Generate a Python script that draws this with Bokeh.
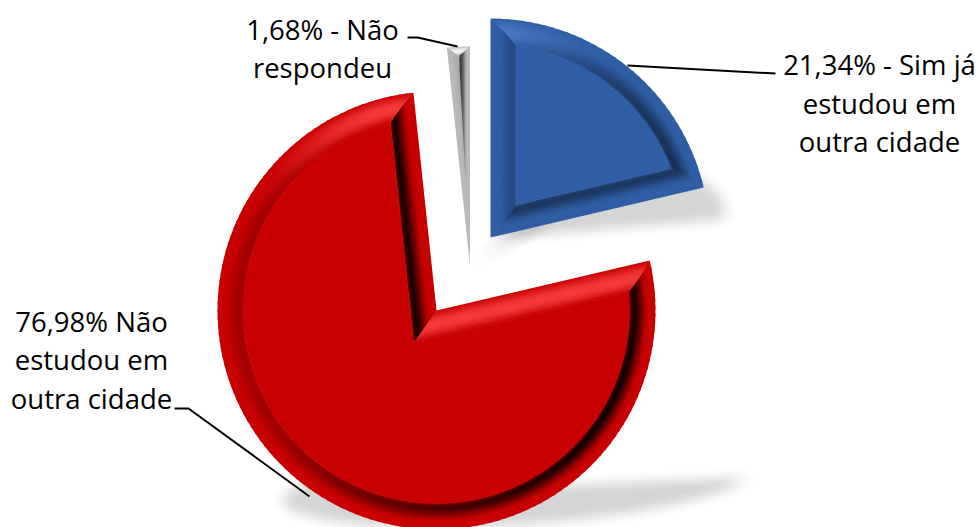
import math
from bokeh.plotting import figure
from bokeh.models import Range1d
from bokeh.core.properties import value
from bokeh.embed import file_html
from bokeh.resources import INLINE

# ---- data ----
categories = ["Sim já estudou em outra cidade", "Não estudou em outra cidade", "Não respondeu"]
shares = [21.34, 76.98, 1.68]
label_lines = [
    ["21,34% - Sim já", "estudou em", "outra cidade"],
    ["76,98% Não", "estudou em", "outra cidade"],
    ["1,68% - Não", "respondeu"],
]

# ---- layout / style (image pixel space) ----
W, H = 980, 527
RADIUS = 219
CENTRES = [(490, 237), (436, 310), (469.5, 265)]
INSETS = [(26, 26), (26, 26), (11, 9)]      # side bevel, arc bevel
BASE = ["#2f5ea4", "#c80000", "#b8b8b8"]
DARK = ["#182c50", "#140000", "#383838"]
LIGHT = ["#4a7cc4", "#f43a3a", "#f4f4f4"]
FLOOR = [0.42, 0.22, 0.12]
SHADOW = [(240, 0.38), (527, 0.19), (265, 0.19)]  # ground line, squash
SHEAR = 0.366
LABEL_X = [879, 91, 322]
LABEL_Y = [64, 320.5, 28.5]
LINE_STEP = 38.5
LEADERS = [
    ([627, 775], [65, 73]),
    ([407, 417, 457], [37, 37, 46]),
    ([174, 188, 309], [408, 408, 496]),
]


def rgb(h):
    return tuple(int(h[i:i + 2], 16) for i in (1, 3, 5))


def mix(a, b, k):
    k = max(0.0, min(1.0, k))
    return tuple(a[i] + (b[i] - a[i]) * k for i in range(3))


def hexc(c):
    return "#%02x%02x%02x" % tuple(int(round(v)) for v in c)


def polar(c, r, a):
    t = math.radians(a)
    return (c[0] + r * math.sin(t), c[1] - r * math.cos(t))


def lerp(p, q, k):
    return (p[0] + (q[0] - p[0]) * k, p[1] + (q[1] - p[1]) * k)


def smooth(e0, e1, x):
    u = max(0.0, min(1.0, (x - e0) / (e1 - e0)))
    return u * u * (3 - 2 * u)


def shade(i, normal, t):
    val = 1 - math.cos(math.radians(normal - 290))
    hl = max(0.0, math.cos(math.radians(normal - 350))) ** 8
    d = max(FLOOR[i], val / 2) * (1 - hl)
    prof = smooth(0.25, 0.85, t) * (1 - 0.45 * smooth(0.88, 1.0, t))
    c = mix(rgb(BASE[i]), rgb(DARK[i]), d * prof)
    return hexc(mix(c, rgb(LIGHT[i]), hl * math.sin(math.pi * t)))


p = figure(width=W, height=H, x_range=Range1d(0, W), y_range=Range1d(H, 0),
           output_backend="svg", toolbar_location=None, min_border=0,
           outline_line_color=None, background_fill_color="white", border_fill_color="white")
p.axis.visible = False
p.grid.visible = False

# angular extents from the shares, clockwise from 12 o'clock
spans = []
acc = 0.0
for s in shares:
    spans.append((acc, acc + s * 3.6))
    acc += s * 3.6


def outline(c, a0, a1, r):
    n = max(3, int((a1 - a0) / 2))
    return [c] + [polar(c, r, a0 + (a1 - a0) * j / n) for j in range(n + 1)]


# soft shadows: many faint sheared copies
rings = [(0, 1), (3, 6), (6, 9), (9, 12), (12, 14)]
offs = []
for rr, cnt in rings:
    for j in range(cnt):
        offs.append((rr * math.cos(2 * math.pi * j / cnt), rr * 0.8 * math.sin(2 * math.pi * j / cnt)))
sx, sy = [], []
for i, (a0, a1) in enumerate(spans):
    y0, squash = SHADOW[i]
    pts = outline(CENTRES[i], a0, a1, RADIUS)
    for ox, oy in offs:
        sx.append([x + SHEAR * (y0 - y) + ox for x, y in pts])
        sy.append([y0 - squash * (y0 - y) + oy for x, y in pts])
p.patches(sx, sy, fill_color="#000000", fill_alpha=0.0048, line_color=None)

# wedges with bevels: painted outer band first, each band overlapping the next
N_T = 20
for i, (a0, a1) in enumerate(spans):
    c = CENTRES[i]
    d_side, d_arc = INSETS[i]
    ri = RADIUS - d_arc
    delta = math.degrees(math.asin(d_side / ri))
    half = math.radians((a1 - a0) / 2)
    mid = (a0 + a1) / 2
    inner_apex = polar(c, d_side / math.sin(half), mid)
    bx, by, bc = [], [], []

    def corner(t, start):
        ang = (a0 + t * delta) if start else (a1 - t * delta)
        return polar(c, RADIUS - t * d_arc, ang)

    def apex(t):
        return lerp(c, inner_apex, t)

    def pt(t, u):
        s = a0 + t * delta
        e = a1 - t * delta
        return polar(c, RADIUS - t * d_arc, s + (e - s) * u)

    for k in range(N_T):
        t1, t2 = k / N_T, (k + 1) / N_T
        tm = (t1 + t2) / 2
        t3 = min(1.0, t2 + 1.0 / N_T)
        # radial edges: start edge's outward normal faces a0-90, end edge's a1+90
        for start, normal in ((True, a0 - 90), (False, a1 + 90)):
            q = [apex(t1), corner(t1, start), corner(t3, start), apex(t3)]
            bx.append([v[0] for v in q]); by.append([v[1] for v in q])
            bc.append(shade(i, normal % 360, tm))
        # arc
        m = max(2, int((a1 - a0) / 2))
        for j in range(m):
            u1, u2 = j / m, min(1.0, (j + 1.3) / m)
            q = [pt(t1, u1), pt(t1, u2), pt(t3, u2), pt(t3, u1)]
            bx.append([v[0] for v in q]); by.append([v[1] for v in q])
            bc.append(shade(i, (a0 + (a1 - a0) * (j + 0.5) / m) % 360, tm))
    p.patches(bx, by, fill_color=bc, line_color=None)
    # flat face
    n = max(3, int((a1 - a0) / 2))
    face = [inner_apex] + [polar(c, ri, a0 + delta + (a1 - a0 - 2 * delta) * j / n) for j in range(n + 1)]
    if a1 - a0 - 2 * delta > 0:
        p.patch([v[0] for v in face], [v[1] for v in face], fill_color=BASE[i], line_color=BASE[i], line_width=0.5)

# leader lines
for lx, ly in LEADERS:
    p.line(lx, ly, line_color="#000000", line_width=2)

# labels
for i, lines in enumerate(label_lines):
    ys = [LABEL_Y[i] + j * LINE_STEP for j in range(len(lines))]
    p.text([LABEL_X[i]] * len(lines), ys, text=lines, text_font=value("Open Sans"),
           text_font_size="27.5px", text_color="#000000", text_align="center", text_baseline="middle")

open("out.html", "w").write(file_html(p, INLINE))
